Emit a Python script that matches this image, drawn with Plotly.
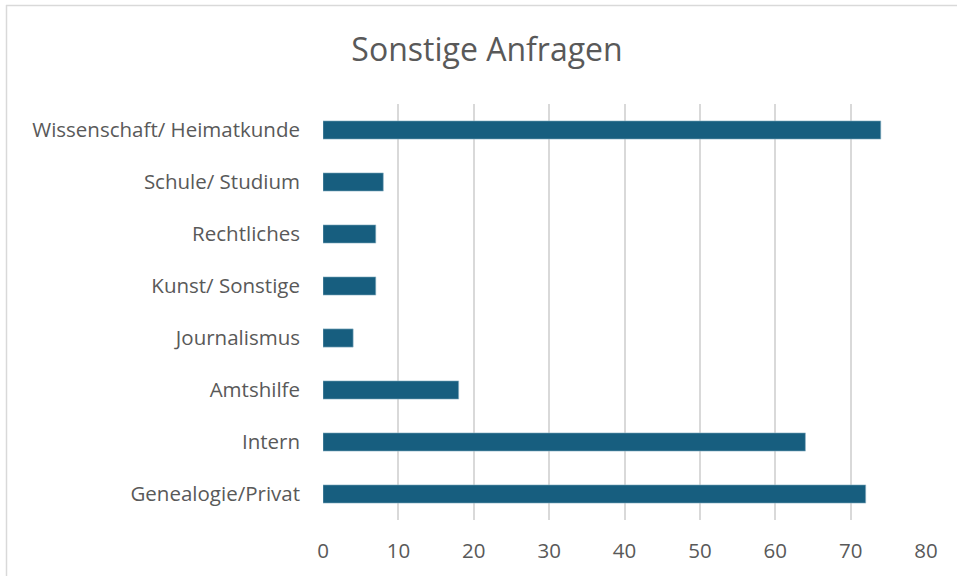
import plotly.graph_objects as go

categories = ["Genealogie/Privat", "Intern", "Amtshilfe", "Journalismus",
              "Kunst/ Sonstige", "Rechtliches", "Schule/ Studium", "Wissenschaft/ Heimatkunde"]
values = [72, 64, 18, 4, 7, 7, 8, 74]
x_ticks = [0, 10, 20, 30, 40, 50, 60, 70, 80]

BAR = "#175e7f"
TEXT = "#595959"
GRID = "#d9d9d9"
FONT = "Open Sans"

fig = go.Figure(go.Bar(
    x=values, y=categories, orientation="h",
    marker=dict(color=BAR, line=dict(color="#8fb3c6", width=0.6)),
))

L, R, T, B = 323, 31, 104, 56
W, H = 957, 576
pw, ph = W - L - R, H - T - B

fig.update_layout(
    width=W, height=H,
    margin=dict(l=L, r=R, t=T, b=B, pad=0),
    paper_bgcolor="white", plot_bgcolor="white",
    bargap=0.65,
    showlegend=False,
    font=dict(family=FONT, color=TEXT),
    title=dict(text="Sonstige Anfragen", x=487 / W, xanchor="center",
               y=1 - 50 / H, yanchor="middle",
               font=dict(family=FONT, size=32, color=TEXT)),
    xaxis=dict(range=[0, 80], tickvals=x_ticks, showgrid=True, gridcolor=GRID,
               gridwidth=1.5, zeroline=False, showline=False, ticks="",
               tickfont=dict(family=FONT, size=20.5, color=TEXT),
               ticklabelstandoff=16, fixedrange=True),
    yaxis=dict(categoryorder="array", categoryarray=categories, showgrid=False,
               zeroline=False, showline=False, ticks="",
               tickfont=dict(family=FONT, size=20.5, color=TEXT),
               ticklabelstandoff=22, fixedrange=True),
    shapes=[
        dict(type="line", xref="paper", yref="paper",
             x0=(6 - L) / pw, x1=(W + 5 - L) / pw,
             y0=(H - B - 5.5) / ph, y1=(H - B - 5.5) / ph,
             line=dict(color=GRID, width=1.5)),
        dict(type="line", xref="paper", yref="paper",
             x0=(6.5 - L) / pw, x1=(6.5 - L) / pw,
             y0=(H - B - 5) / ph, y1=-(B + 5) / ph,
             line=dict(color=GRID, width=1.5)),
    ],
)

fig.write_html("out.html", config={"displayModeBar": False},
               post_script="document.body.style.margin='0';")
